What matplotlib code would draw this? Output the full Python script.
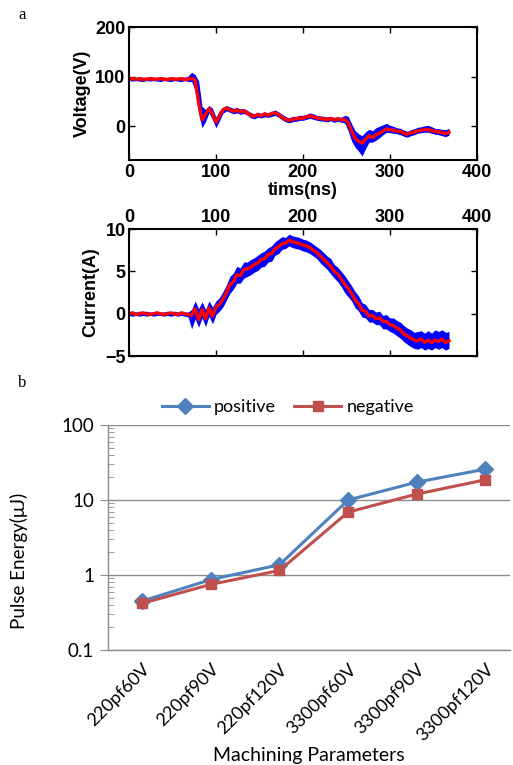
import numpy as np
import matplotlib
matplotlib.use('Agg')
import matplotlib.pyplot as plt
from matplotlib.ticker import LogLocator, NullFormatter, FixedLocator

# sampling step of the scope traces (ns)
dt = 4.0

# voltage: averaged trace (red) and spread of the raw shots (blue band)
v_red = [
    95, 96, 95, 96, 94, 95, 96, 95, 95, 96,
    95, 94, 96, 95, 95, 96, 94, 95, 97, 93,
    48, 13, 24, 36, 25, 8, 21, 33, 37, 33,
    30, 33, 29, 31, 27, 22, 20, 24, 21, 25,
    22, 26, 27, 24, 18, 14, 12, 14, 15, 17,
    16, 19, 21, 19, 17, 16, 15, 13, 16, 13,
    15, 13, 14, 7, -10, -24, -30, -34, -26, -19,
    -23, -17, -14, -10, -5, -7, -8, -10, -10, -14,
    -16, -13, -12, -9, -8, -7, -6, -9, -10, -11,
    -13, -15, -12]
v_hi = [
    99, 100, 98, 100, 99, 98, 100, 99, 98, 100,
    99, 98, 100, 99, 98, 100, 99, 101, 109, 104,
    92, 40, 34, 42, 36, 19, 31, 38, 42, 39,
    36, 38, 35, 36, 32, 28, 25, 28, 26, 29,
    27, 30, 33, 29, 24, 20, 17, 20, 20, 22,
    22, 24, 27, 25, 22, 21, 20, 19, 20, 18,
    19, 18, 22, 20, 5, -9, -15, -19, -11, -6,
    -9, -3, 0, 3, 6, 2, 0, -3, -4, -8,
    -10, -7, -5, -2, -1, 1, 2, -1, -4, -5,
    -6, -7, -4]
v_lo = [
    92, 91, 92, 91, 90, 92, 91, 92, 91, 90,
    92, 91, 90, 92, 91, 90, 92, 90, 90, 72,
    26, -3, 10, 27, 13, -3, 11, 26, 31, 28,
    25, 27, 24, 26, 22, 17, 15, 18, 17, 19,
    18, 20, 22, 18, 13, 9, 7, 9, 10, 12,
    12, 14, 16, 14, 12, 11, 10, 9, 11, 8,
    10, 8, 7, -9, -30, -42, -50, -60, -45, -32,
    -32, -28, -23, -17, -12, -13, -14, -15, -17, -20,
    -22, -19, -17, -14, -13, -12, -12, -14, -16, -17,
    -19, -21, -18]

# current: averaged trace and spread
i_red = [
    0.0, 0.1, -0.1, 0.0, 0.1, 0.0, -0.1, 0.0, 0.1, 0.0,
    -0.1, 0.0, 0.1, 0.0, -0.1, 0.1, 0.0, -0.1, -0.2, 0.6,
    -0.7, 0.5, -0.6, 0.7, -0.3, 0.8, 1.1, 1.7, 2.5, 3.4,
    3.8, 4.6, 4.5, 5.2, 5.3, 5.5, 5.8, 6.0, 6.4, 6.5,
    7.0, 7.1, 7.7, 7.9, 8.3, 8.3, 8.7, 8.5, 8.4, 8.3,
    8.1, 8.0, 7.8, 7.5, 7.2, 6.8, 6.4, 6.0, 5.6, 5.0,
    4.7, 4.1, 3.5, 3.0, 2.4, 1.6, 1.2, 0.4, 0.3, -0.3,
    -0.2, -0.6, -0.5, -0.9, -0.9, -1.3, -1.4, -1.7, -1.9, -2.4,
    -2.6, -2.9, -3.1, -3.2, -3.0, -3.4, -3.1, -3.4, -3.1, -3.3,
    -3.0, -3.4, -3.2]
i_hi = [
    0.2, 0.3, 0.2, 0.3, 0.2, 0.3, 0.2, 0.2, 0.3, 0.2,
    0.2, 0.3, 0.2, 0.3, 0.2, 0.3, 0.2, 0.2, 0.5, 1.5,
    0.6, 1.4, 0.5, 1.5, 0.8, 1.5, 1.9, 2.6, 3.4, 4.4,
    4.8, 5.6, 5.4, 6.1, 6.1, 6.4, 6.6, 6.9, 7.2, 7.4,
    7.8, 8.0, 8.5, 8.8, 9.1, 9.0, 9.4, 9.2, 9.1, 9.0,
    8.8, 8.7, 8.5, 8.2, 7.9, 7.6, 7.2, 6.8, 6.5, 5.8,
    5.5, 5.0, 4.5, 3.9, 3.3, 2.6, 2.1, 1.3, 1.1, 0.5,
    0.5, 0.2, 0.3, -0.2, -0.1, -0.5, -0.5, -0.8, -1.0, -1.4,
    -1.7, -1.9, -2.2, -2.1, -2.0, -2.3, -2.0, -2.3, -1.9, -2.1,
    -1.9, -2.2, -2.1]
i_lo = [
    -0.2, -0.3, -0.2, -0.3, -0.2, -0.3, -0.2, -0.3, -0.2, -0.2,
    -0.3, -0.2, -0.3, -0.2, -0.3, -0.2, -0.3, -0.4, -1.8, -0.6,
    -1.6, -0.5, -1.5, -0.3, -1.2, -0.1, 0.3, 0.8, 1.6, 2.4,
    2.9, 3.6, 3.6, 4.2, 4.4, 4.6, 4.9, 5.1, 5.5, 5.6,
    6.1, 6.2, 6.9, 7.1, 7.6, 7.7, 8.0, 7.8, 7.7, 7.6,
    7.4, 7.3, 7.1, 6.8, 6.5, 6.0, 5.6, 5.2, 4.7, 4.2,
    3.8, 3.2, 2.5, 2.0, 1.5, 0.7, 0.3, -0.4, -0.5, -1.0,
    -1.0, -1.3, -1.3, -1.8, -1.8, -2.1, -2.3, -2.6, -2.9, -3.3,
    -3.6, -3.9, -4.1, -4.2, -4.0, -4.3, -4.1, -4.3, -4.0, -4.2,
    -4.0, -4.3, -4.1]

# pulse energy vs machining parameters
params = ['220pf60V', '220pf90V', '220pf120V', '3300pf60V', '3300pf90V', '3300pf120V']
positive = [0.45, 0.87, 1.37, 10.0, 17.3, 25.8]
negative = [0.42, 0.75, 1.15, 6.9, 12.0, 18.6]

t = np.arange(len(v_red)) * dt

fig = plt.figure(figsize=(5.13, 7.65), dpi=100)

bold = dict(family='Liberation Sans', weight='bold', size=13)


def scope_axes(ax):
    for s in ax.spines.values():
        s.set_linewidth(1.5)
    ax.tick_params(direction='in', length=4, width=1, top=True, right=True)
    ax.set_xlim(0, 400)
    ax.set_xticks([0, 100, 200, 300, 400])
    for lab in ax.get_xticklabels() + ax.get_yticklabels():
        lab.set_fontproperties(matplotlib.font_manager.FontProperties(**bold))


# voltage
ax1 = fig.add_axes([0.2515, 0.7908, 0.678, 0.1739])
ax1.fill_between(t, v_lo, v_hi, color='#0000ff', lw=0)
ax1.plot(t, v_red, color='#ff0000', lw=2.4)
ax1.set_ylim(-68, 200)
ax1.set_yticks([0, 100, 200])
scope_axes(ax1)
ax1.tick_params(pad=2.5)
ax1.set_ylabel('Voltage(V)', **bold, labelpad=3)
ax1.set_xlabel('tims(ns)', **bold, labelpad=1)

# current
ax2 = fig.add_axes([0.2515, 0.5346, 0.678, 0.1660])
ax2.fill_between(t, i_lo, i_hi, color='#0000ff', lw=0)
ax2.plot(t, i_red, color='#ff0000', lw=2.4)
ax2.set_ylim(-5, 10)
ax2.set_yticks([-5, 0, 5, 10])
ax2.xaxis.tick_top()
ax2.tick_params(bottom=True)
scope_axes(ax2)
ax2.tick_params(labeltop=True, labelbottom=False, pad=2.5)
ax2.set_ylabel('Current(A)', **bold, labelpad=4)

# pulse energy
cal = 'Lato'
ax3 = fig.add_axes([0.2105, 0.1503, 0.7836, 0.2941])
x = np.arange(len(params))
ax3.plot(x, positive, color='#4f81bd', lw=2.2, marker='D', ms=8.5, label='positive')
ax3.plot(x, negative, color='#c0504d', lw=2.2, marker='s', ms=6.5, label='negative')
ax3.set_yscale('log')
ax3.set_ylim(0.1, 100)
ax3.set_xlim(-0.5, 5.36)
ax3.yaxis.set_major_locator(FixedLocator([0.1, 1, 10, 100]))
ax3.set_yticklabels(['0.1', '1', '10', '100'], family=cal, fontsize=13.5)
ax3.yaxis.set_minor_locator(LogLocator(subs=np.arange(2, 10)))
ax3.yaxis.set_minor_formatter(NullFormatter())
ax3.grid(axis='y', which='major', color='#8c8c8c', lw=1)
ax3.set_axisbelow(True)
ax3.tick_params(axis='y', which='major', direction='out', length=6, color='#8c8c8c', pad=4)
ax3.tick_params(axis='y', which='minor', direction='in', length=4, color='#8c8c8c')
ax3.tick_params(axis='x', length=0, pad=8)
ax3.set_xticks(x)
ax3.set_xticklabels(params, rotation=45, ha='right', va='top', rotation_mode='anchor',
                    family=cal, fontsize=13)
for side in ['top', 'right']:
    ax3.spines[side].set_visible(False)
for side in ['left', 'bottom']:
    ax3.spines[side].set_color('#8c8c8c')
    ax3.spines[side].set_linewidth(1)
ax3.set_xlabel('Machining Parameters', family=cal, fontsize=14, labelpad=2)
ax3.set_ylabel('Pulse Energy(\u03bcJ)', family=cal, fontsize=13.5)
ax3.yaxis.set_label_coords(-0.199, 0.396)
fig.legend(loc='center', bbox_to_anchor=(0.561, 0.468), ncol=2, frameon=False,
           prop={'family': cal, 'size': 13}, handlelength=2.6, columnspacing=1.0,
           handletextpad=0.3)

fig.text(0.035, 0.98, 'a', family='Liberation Serif', fontsize=12, va='center')
fig.text(0.035, 0.499, 'b', family='Liberation Serif', fontsize=12, va='center')

fig.savefig('out.png', dpi=100)
